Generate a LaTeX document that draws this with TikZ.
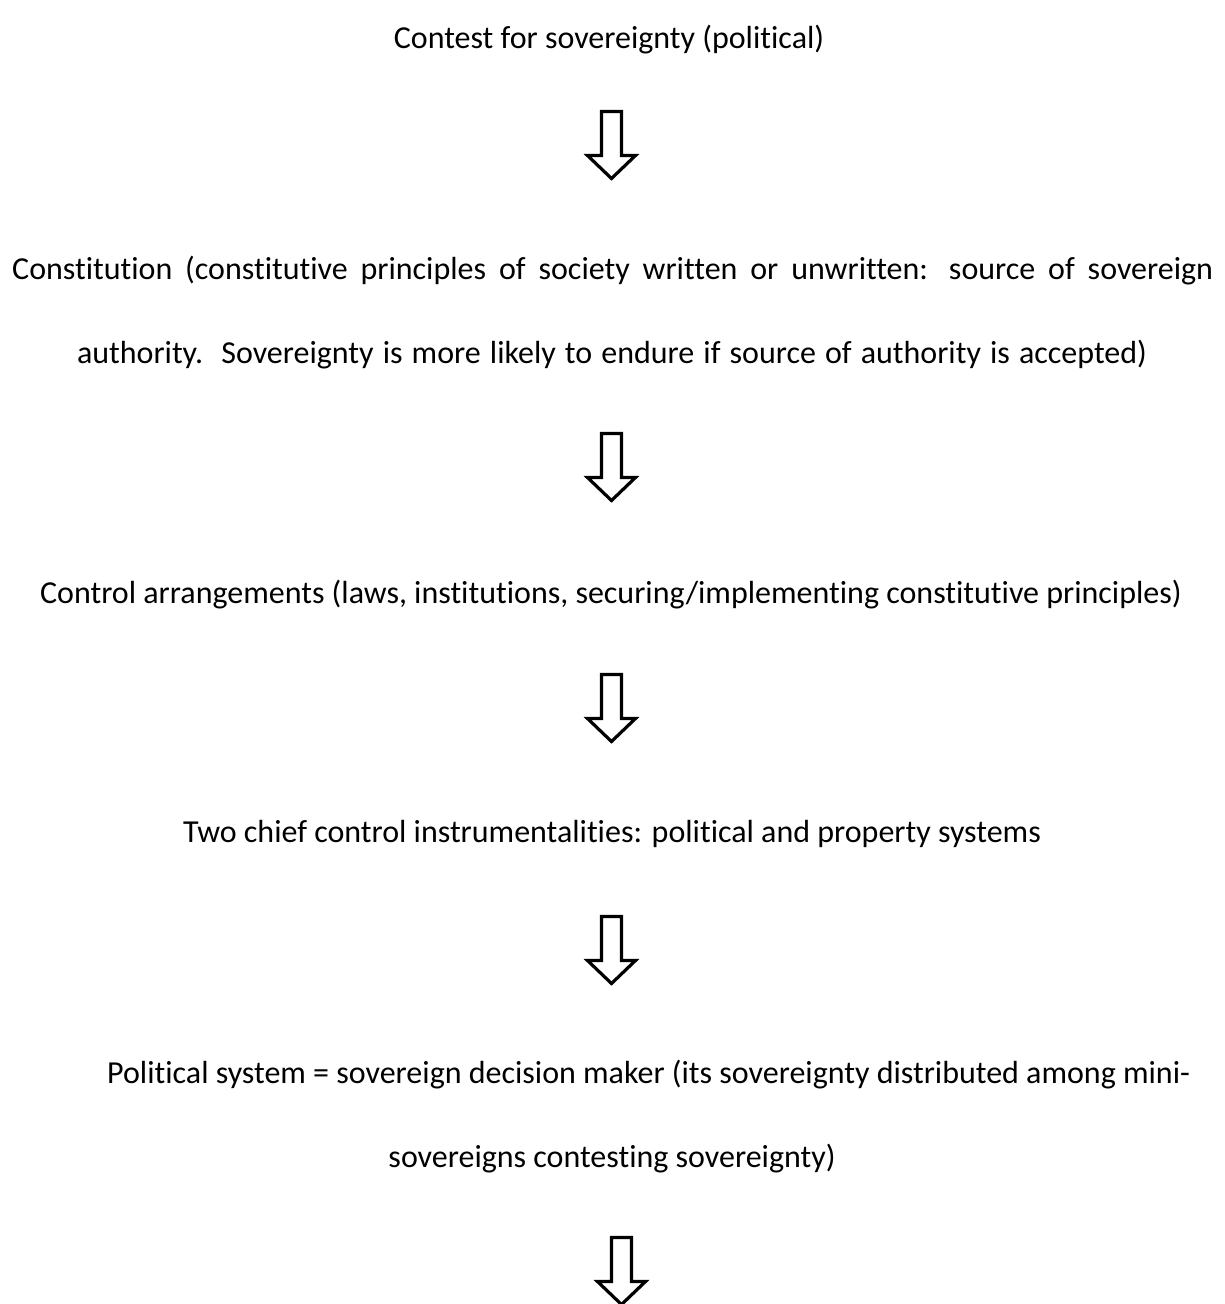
\documentclass[tikz,border=0pt]{standalone}
\usepackage{fontspec}
\setmainfont[Ligatures=NoCommon]{Carlito}
\begin{document}
\begin{tikzpicture}[x=1pt,y=-1pt,
  txt/.style={inner sep=0pt,font=\fontsize{32}{40}\selectfont},
  blockarrow/.style={draw=black,line width=3.2pt,miter limit=10,line join=miter,fill=white}]
\useasboundingbox (0,0) rectangle (1225,1304);
\clip (0,0) rectangle (1225,1304);
\fill[white] (0,0) rectangle (1225,1304);
\tikzset{pics/downarrow/.style={code={
  \draw[blockarrow] (-10,0) -- (10,0) -- (10,44) -- (24,44) -- (0,67) -- (-24,44) -- (-10,44) -- cycle;
}}}

\node[txt,anchor=base] (t1) at (609,48) {Contest for sovereignty (political)};
\node[txt,anchor=base west] (t2a) at (12,279) {\makebox[1201pt][s]{Constitution (constitutive principles of society written or unwritten: source of sovereign}};
\node[txt,anchor=base] (t2b) at (612,363) {\makebox[1070pt][s]{authority.\ \ Sovereignty is more likely to endure if source of authority is accepted)}};
\node[txt,anchor=base] (t3) at (611,603) {Control arrangements (laws, institutions, securing/implementing constitutive principles)};
\node[txt,anchor=base] (t4) at (612,842) {Two chief control instrumentalities: political and property systems};
\node[txt,anchor=base west] (t5a) at (107,1083) {Political system = sovereign decision maker (its sovereignty distributed among mini-};
\node[txt,anchor=base] (t5b) at (612,1167) {sovereigns contesting sovereignty)};

\coordinate (a1) at (611.5,111.5);
\coordinate (a2) at (611.5,433.5);
\coordinate (a3) at (611.5,674.5);
\coordinate (a4) at (611.5,916.5);
\coordinate (a5) at (621.5,1237.5);
\pic at (a1) {downarrow};
\pic at (a2) {downarrow};
\pic at (a3) {downarrow};
\pic at (a4) {downarrow};
\pic at (a5) {downarrow};
\end{tikzpicture}
\end{document}
